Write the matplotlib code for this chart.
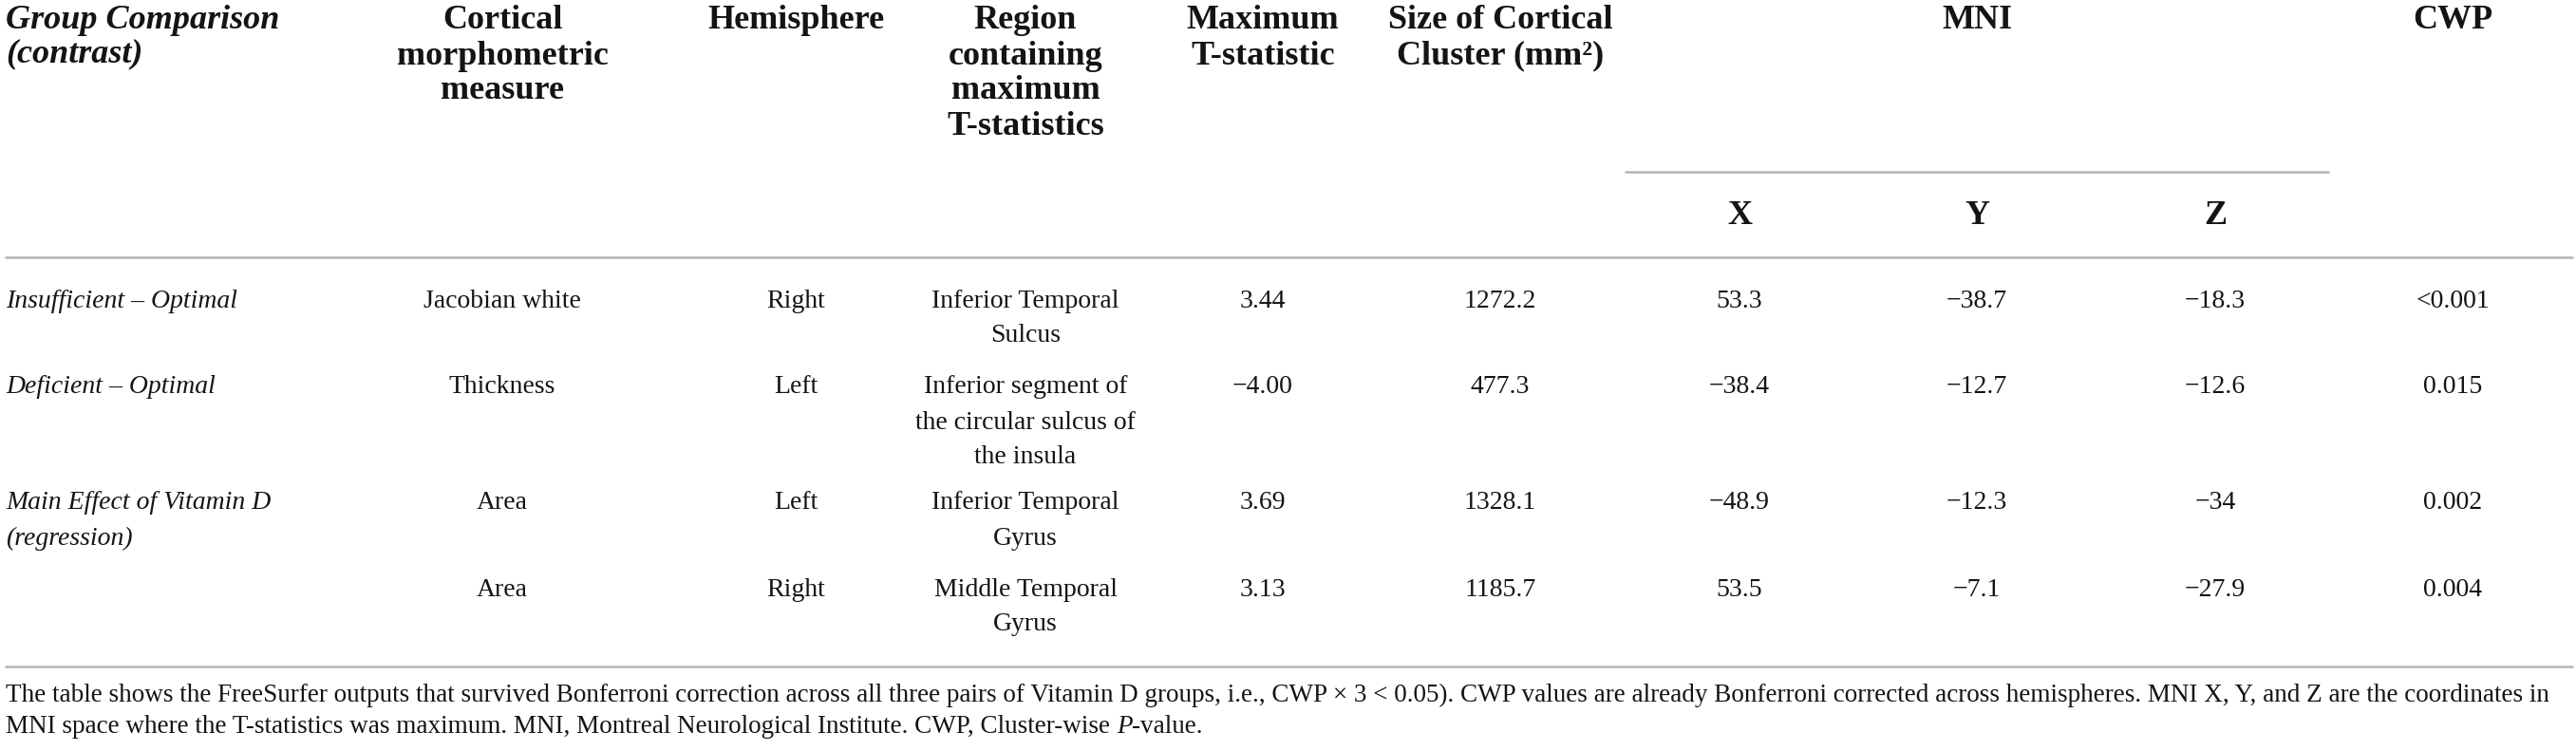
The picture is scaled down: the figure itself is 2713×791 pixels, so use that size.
import matplotlib
matplotlib.use("Agg")
import matplotlib.pyplot as plt

# ---------------- data ----------------
contrasts = [["Insufficient \u2013 Optimal"],
             ["Deficient \u2013 Optimal"],
             ["Main Effect of Vitamin D", "(regression)"],
             []]
measures = ["Jacobian white", "Thickness", "Area", "Area"]
hemispheres = ["Right", "Left", "Left", "Right"]
regions = [["Inferior Temporal", "Sulcus"],
           ["Inferior segment of", "the circular sulcus of", "the insula"],
           ["Inferior Temporal", "Gyrus"],
           ["Middle Temporal", "Gyrus"]]
t_stat = ["3.44", "\u22124.00", "3.69", "3.13"]
cluster_size = ["1272.2", "477.3", "1328.1", "1185.7"]
mni_x = ["53.3", "\u221238.4", "\u221248.9", "53.5"]
mni_y = ["\u221238.7", "\u221212.7", "\u221212.3", "\u22127.1"]
mni_z = ["\u221218.3", "\u221212.6", "\u221234", "\u221227.9"]
cwp = ["<0.001", "0.015", "0.002", "0.004"]

headers = [["Group Comparison", "(contrast)"],
           ["Cortical", "morphometric", "measure"],
           ["Hemisphere"],
           ["Region", "containing", "maximum", "T-statistics"],
           ["Maximum", "T-statistic"],
           ["Size of Cortical", "Cluster (mm\u00b2)"],
           [],
           [],
           [],
           ["CWP"]]
mni_label = "MNI"
sub_headers = ["X", "Y", "Z"]

footnote1 = ("The table shows the FreeSurfer outputs that survived Bonferroni correction across all three "
             "pairs of Vitamin D groups, i.e., CWP \u00d7 3 < 0.05). CWP values are already Bonferroni "
             "corrected across hemispheres. MNI X, Y, and Z are the coordinates in")
footnote2_parts = [("MNI space where the T-statistics was maximum. MNI, Montreal Neurological Institute. "
                    "CWP, Cluster-wise ", "normal"), ("P", "italic"), ("-value.", "normal")]

# ---------------- layout ----------------
W, H = 2713, 791
DPI = 100
FONT = "Liberation Serif"
TXT = "#141414"
RULE = "#b4b4b4"

fig = plt.figure(figsize=(W / DPI, H / DPI), dpi=DPI)
ax = fig.add_axes([0, 0, 1, 1])
ax.set_xlim(0, W)
ax.set_ylim(H, 0)
ax.axis("off")

col_x = [6, 529, 838, 1080, 1330, 1580, 1832, 2082, 2333, 2583]
head_fs = 26
body_fs = 20
head_step = 37
body_step = 37

# header
head_y0 = 22
for ci, lines in enumerate(headers):
    for li, s in enumerate(lines):
        if ci == 0:
            ax.text(col_x[ci], head_y0 + li * 35, s, ha="left", va="center",
                    fontsize=head_fs, fontweight="bold", fontstyle="italic",
                    family=FONT, color=TXT)
        else:
            ax.text(col_x[ci], head_y0 + li * head_step, s, ha="center", va="center",
                    fontsize=head_fs, fontweight="bold", family=FONT, color=TXT)
ax.text(col_x[7], head_y0, mni_label, ha="center", va="center", fontsize=head_fs,
        fontweight="bold", family=FONT, color=TXT)
ax.plot([1711, 2453], [181, 181], color=RULE, lw=1.8, solid_capstyle="butt")
for k, s in enumerate(sub_headers):
    ax.text(col_x[6 + k], 227, s, ha="center", va="center", fontsize=head_fs,
            fontweight="bold", family=FONT, color=TXT)
ax.plot([5, 2710], [271, 271], color=RULE, lw=1.8, solid_capstyle="butt")

# body
row_y = [317, 408, 530, 621]
for r in range(4):
    y0 = row_y[r]
    for li, s in enumerate(contrasts[r]):
        ax.text(col_x[0], y0 + li * body_step, s, ha="left", va="center",
                fontsize=body_fs, fontstyle="italic", family=FONT, color=TXT)
    cells = [measures[r], hemispheres[r], None, t_stat[r], cluster_size[r],
             mni_x[r], mni_y[r], mni_z[r], cwp[r]]
    for k, s in enumerate(cells):
        ci = k + 1
        if s is None:
            for li, rs in enumerate(regions[r]):
                ax.text(col_x[ci], y0 + li * body_step, rs, ha="center", va="center",
                        fontsize=body_fs, family=FONT, color=TXT)
        else:
            ax.text(col_x[ci], y0, s, ha="center", va="center",
                    fontsize=body_fs, family=FONT, color=TXT)

ax.plot([5, 2710], [702, 702], color=RULE, lw=1.8, solid_capstyle="butt")

# footnote (fit first line to the table width)
renderer = fig.canvas.get_renderer()
fn_fs = 18.5
t1 = ax.text(6, 732, footnote1, ha="left", va="center", fontsize=fn_fs,
             family=FONT, color=TXT)
wpx = t1.get_window_extent(renderer).width
target = 2700 - 6
fn_fs = fn_fs * target / wpx
t1.set_fontsize(fn_fs)

x = 6
for s, style in footnote2_parts:
    t = ax.text(x, 766, s, ha="left", va="center", fontsize=fn_fs,
                fontstyle=style, family=FONT, color=TXT)
    x += t.get_window_extent(renderer).width

fig.savefig("out.png", dpi=DPI, facecolor="white")
